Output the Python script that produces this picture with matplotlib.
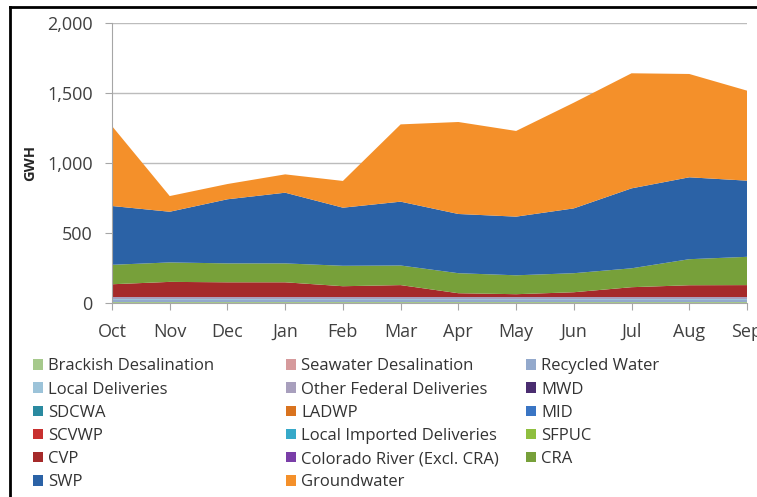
import numpy as np
import matplotlib
matplotlib.use('Agg')
import matplotlib.pyplot as plt
from matplotlib.patches import Patch
from matplotlib.lines import Line2D

plt.rcParams['font.family'] = ['Open Sans', 'DejaVu Sans']

months = ['Oct', 'Nov', 'Dec', 'Jan', 'Feb', 'Mar', 'Apr', 'May', 'Jun', 'Jul', 'Aug', 'Sep']

# series in stacking order (GWH)
brackish = [10, 10, 10, 10, 10, 10, 10, 10, 10, 10, 10, 10]
seawater = [0, 0, 0, 0, 0, 0, 0, 0, 0, 0, 0, 0]
recycled = [12, 12, 12, 12, 12, 12, 12, 12, 12, 12, 12, 12]
local_deliveries = [10, 10, 10, 10, 10, 10, 10, 10, 10, 10, 10, 10]
other_federal = [13, 13, 13, 13, 13, 13, 13, 13, 13, 13, 13, 13]
mwd = [0, 0, 0, 0, 0, 0, 0, 0, 0, 0, 0, 0]
sdcwa = [0, 0, 0, 0, 0, 0, 0, 0, 0, 0, 0, 0]
ladwp = [0, 0, 0, 0, 0, 0, 0, 0, 0, 0, 0, 0]
mid = [0, 0, 0, 0, 0, 0, 0, 0, 0, 0, 0, 0]
scvwp = [0, 0, 0, 0, 0, 0, 0, 0, 0, 0, 0, 0]
local_imported = [0, 0, 0, 0, 0, 0, 0, 0, 0, 0, 0, 0]
sfpuc = [0, 0, 0, 0, 0, 0, 0, 0, 0, 0, 0, 0]
cvp = [91, 108, 105, 105, 77, 85, 27, 20, 34, 70, 84, 85]
colorado = [0, 0, 0, 0, 0, 0, 0, 0, 0, 0, 0, 0]
cra = [139, 139, 135, 135, 146, 140, 143, 135, 136, 135, 186, 202]
swp = [420, 362, 458, 505, 415, 456, 423, 419, 463, 571, 585, 544]
groundwater = [571, 112, 109, 131, 191, 552, 657, 612, 755, 822, 738, 643]

labels = ['Brackish Desalination', 'Seawater Desalination', 'Recycled Water',
          'Local Deliveries', 'Other Federal Deliveries', 'MWD',
          'SDCWA', 'LADWP', 'MID',
          'SCVWP', 'Local Imported Deliveries', 'SFPUC',
          'CVP', 'Colorado River (Excl. CRA)', 'CRA',
          'SWP', 'Groundwater']
colors = ['#a6c98c', '#d69a9c', '#93a9cc',
          '#9cc3d9', '#a89fbd', '#4a2d70',
          '#2a8aa0', '#d9731f', '#3a75c4',
          '#c8302f', '#36a9c9', '#8fbf3f',
          '#a52a2a', '#7a3ea8', '#77a03a',
          '#2b62a6', '#f4902a']
series = [brackish, seawater, recycled, local_deliveries, other_federal, mwd,
          sdcwa, ladwp, mid, scvwp, local_imported, sfpuc,
          cvp, colorado, cra, swp, groundwater]

fig = plt.figure(figsize=(7.57, 4.97), dpi=100)
ax = fig.add_axes([112/757, 1 - 303.3/497, 635/757, 280/497])

x = np.arange(len(months))
ax.stackplot(x, *series, colors=colors, linewidth=0)

ax.set_xlim(0, 11)
ax.set_ylim(0, 2000)
ax.set_yticks([0, 500, 1000, 1500, 2000])
ax.set_yticklabels(['0', '500', '1,000', '1,500', '2,000'])
ax.set_xticks(x)
ax.set_xticklabels(months)
ax.grid(axis='y', color='#bcbcbc', lw=1)
ax.set_axisbelow(True)
for s in ['top', 'right']:
    ax.spines[s].set_visible(False)
for s in ['left', 'bottom']:
    ax.spines[s].set_color('#a6a6a6')
ax.tick_params(axis='both', colors='#a6a6a6', labelcolor='#404040', labelsize=13, length=5)
ax.tick_params(axis='x', pad=9)
ax.tick_params(axis='y', pad=9)
ax.set_ylabel('GWH', fontsize=10.5, fontweight='bold', color='#262626', labelpad=7)

handles = [Patch(facecolor=c, edgecolor='none') for c in colors]
col_x = [25, 278, 518]
for k in range(3):
    idx = list(range(k, len(labels), 3))
    fig.legend([handles[i] for i in idx], [labels[i] for i in idx],
               loc='upper left', bbox_to_anchor=(col_x[k]/757, 1 - 350/497),
               frameon=False, fontsize=12, handlelength=0.6, handleheight=0.6,
               handletextpad=0.3, labelspacing=0.43, borderpad=0, labelcolor='#333333')

# outer frame
fig.add_artist(Line2D([10/757, 1], [1 - 7/497, 1 - 7/497], color='black', lw=2))
fig.add_artist(Line2D([10/757, 10/757], [0, 1 - 7/497], color='black', lw=2))

fig.savefig('out.png', dpi=100)
